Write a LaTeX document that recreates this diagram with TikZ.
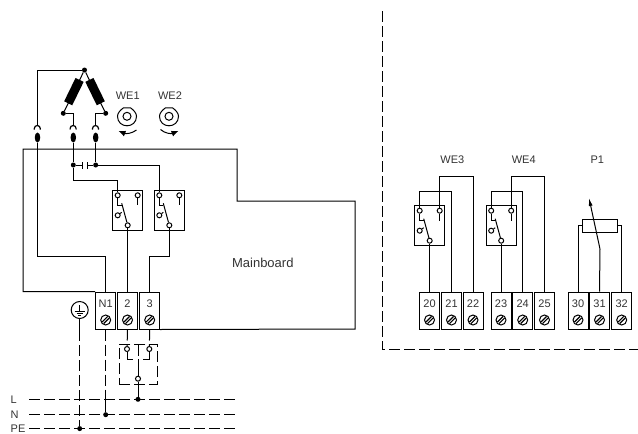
\documentclass[tikz,border=0pt]{standalone}
\usepackage{fontspec}
\setmainfont{Liberation Sans}
\usetikzlibrary{arrows.meta,shapes.geometric}

\tikzset{
  wire/.style={line width=1pt},
  dashwire/.style={line width=1pt, dash pattern=on 11pt off 4pt},
  thinbox/.style={draw, line width=1pt, minimum width=20pt, minimum height=37pt, inner sep=0pt},
  contact/.style={circle, draw, fill=white, line width=1pt, minimum size=5pt, inner sep=0pt},
  dot/.style={circle, fill=black, minimum size=5pt, inner sep=0pt},
  txt/.style={font=\fontsize{11}{12}\selectfont, text=black!80, inner sep=0pt},
  coil/.style={fill=black, rectangle, minimum width=26pt, minimum height=9pt, inner sep=0pt},
  plug/.style={fill=black, ellipse, minimum width=5.5pt, minimum height=10pt, inner sep=0pt},
  relaybox/.style={draw, line width=1pt, minimum width=30pt, minimum height=40pt, inner sep=0pt},
  relay/.pic={
    \node (-box) [relaybox] at (0,0) {};
    \node (-a) [contact] at (-10,-15) {};
    \node (-b) [contact] at (10,-15) {};
    \node (-c) [contact] at (-10,5) {};
    \node (-d) [contact] at (0,15) {};
    \draw[wire] (-a) -- (-10,-5) -- (-6,-5);
    \draw[wire] (-b) -- (10,-5);
    \draw[wire] (-d) -- (-6,-7);
    \draw[wire] (-c) -- (-6,2);
  },
  camdisc/.pic={
    \draw[line width=1pt] (-3.5,-8.5) -- (3.5,-8.5)
      .. controls (7,-6) and (9.5,-3) .. (9.5,0)
      .. controls (9.5,6) and (5,9.5) .. (0,9.5)
      .. controls (-5,9.5) and (-9.5,6) .. (-9.5,0)
      .. controls (-9.5,-3) and (-7,-6) .. (-3.5,-8.5);
    \draw[line width=1pt] (0,0) circle (4pt);
  },
  screw/.pic={
    \draw[line width=1pt] (0,0) circle (5pt);
    \draw[line width=1.2pt] (-3.6,2) -- (2,-3.6);
    \draw[line width=1.2pt] (-2,3.6) -- (3.6,-2);
  },
}

\begin{document}
\begin{tikzpicture}[x=1pt, y=-1pt]
\useasboundingbox (0,0) rectangle (638,434);

% terminals
\foreach \n/\x in {N1/105.7, 2/127.5, 3/149.7, 20/429.5, 21/451.5, 22/473, 23/501, 24/522.7, 25/544.5, 30/578, 31/599.5, 32/621.7} {
  \node (t\n) [thinbox] at (\x, 310.5) {};
  \node (l\n) [txt] at (\x, 303.5) {\n};
  \pic at (\x, 320) {screw};
}

% relays
\pic (ra) at (127.7, 210.3) {relay};
\pic (rb) at (169.3, 210.3) {relay};
\pic (rc) at (429.7, 225.7) {relay};
\pic (rd) at (501.2, 225.7) {relay};

% motor
\node (star) [dot] at (84.5, 70) {};
\node (ml) [dot] at (63.3, 113.3) {};
\node (mr) [dot] at (105.7, 113.3) {};
\node (coila) [coil, rotate=64] at (73.9, 91.6) {};
\node (coilb) [coil, rotate=-64] at (95.1, 91.6) {};
\draw[wire] (star) -- (ml);
\draw[wire] (star) -- (mr);

% plugs
\foreach \n/\x in {a/37.5, b/73.3, c/95.7} {
  \node (up\n) [circle, minimum size=6pt, inner sep=0pt] at (\x, 128.5) {};
  \draw[line width=1.2pt] (up\n.west) ++(0,1.2) -- (up\n.west) arc (180:0:3pt) -- ++(0,1.2);
  \node (pl\n) [plug] at (\x, 137.5) {};
}
\coordinate (cornera) at (37.5, 70);
\draw[wire] (star) -- (cornera) -- (upa.north);
\draw[wire] (ml) -| (upb.north);
\draw[wire] (mr) -| (upc.north);

% mainboard
\coordinate (ba) at (23, 149);
\coordinate (bb) at (237, 201);
\coordinate (bc) at (355, 329);
\draw[wire] (tN1.north west) -| (ba) -| (bb) -| (bc) -- (t3.south east);
\node (board) [txt, font=\fontsize{13}{14}\selectfont] at (262.8, 263) {Mainboard};
\draw[wire] (pla) |- (105.7, 256) -- (tN1.north);

% capacitor
\node (ca) [dot] at (73.3, 165) {};
\node (cb) [dot] at (95.7, 165) {};
\coordinate (pa) at (82.5, 165);
\coordinate (pb) at (87, 165);
\draw[wire] (plb) -- (ca);
\draw[wire] (plc) -- (cb);
\draw[wire] (ca) -- (pa) (pb) -- (cb);
\draw[wire] ([yshift=-3.5pt]pa) -- ([yshift=3.5pt]pa);
\draw[wire] ([yshift=-3.5pt]pb) -- ([yshift=3.5pt]pb);
\draw[wire] (ca) |- (117.7, 180.7) -- (ra-a);
\draw[wire] (cb) -- (159.3, 165) -- (rb-a);

% relay outputs
\draw[wire] (ra-d) -- (ra-d |- t2.north);
\draw[wire] (rb-d) |- (149.7, 256) -- (t3.north);

% cams
\node (we1) [txt] at (127.7, 95.7) {WE1};
\node (we2) [txt] at (170, 95.7) {WE2};
\pic at (127, 116.3) {camdisc};
\pic at (169, 116.3) {camdisc};
\draw[wire, -{Latex[length=7pt, width=6pt]}] (136.5, 130) .. controls (132, 133.5) and (126, 134) .. (118.5, 131);
\draw[wire, -{Latex[length=7pt, width=6pt]}] (160.5, 129.5) .. controls (165, 133.5) and (171, 134) .. (178.5, 131);

% WE3, WE4
\node (we3) [txt] at (452.3, 160) {WE3};
\node (we4) [txt] at (523.7, 160) {WE4};
\draw[wire] (rc-d) -- (rc-d |- t20.north);
\draw[wire] (t21.north) |- (rc-a |- 0,191) -- (rc-a);
\draw[wire] (t22.north) |- (rc-b |- 0,176.7) -- (rc-b);
\draw[wire] (rd-d) -- (rd-d |- t23.north);
\draw[wire] (t24.north) |- (rd-a |- 0,191) -- (rd-a);
\draw[wire] (t25.north) |- (rd-b |- 0,176.7) -- (rd-b);

% P1
\node (p1) [txt] at (597.3, 160) {P1};
\node (pot) [draw, line width=1pt, minimum width=35pt, minimum height=12.5pt, inner sep=0pt] at (599.8, 225.8) {};
\coordinate (wiper) at (600, 249);
\coordinate (tip) at (589, 198);
\draw[wire] (t30.north) |- (pot.west);
\draw[wire] (t32.north) |- (pot.east);
\draw[wire] (t31.north) -- (wiper);
\draw[wire, -{Latex[length=8pt, width=4pt]}] (wiper) -- (tip);

% separator
\coordinate (sa) at (382, 11);
\coordinate (sb) at (382, 349);
\coordinate (sc) at (638, 349);
\draw[dashwire] (sa) -- (sb) -- (sc);

% earth
\node (pe) [circle, draw, line width=1pt, minimum size=17pt, inner sep=0pt] at (79.7, 310) {};
\draw[wire] (74.7, 311) -- (84.7, 311) (76.5, 313.2) -- (82.9, 313.2) (78.2, 315.4) -- (81.2, 315.4);
\coordinate (peb) at (79.7, 330);
\draw[wire] (79.7, 305) -- (79.7, 311);
\draw[wire] (pe) -- (peb);

% mains
\node (ll) [txt, anchor=west] at (10.5, 399.3) {L};
\node (ln) [txt, anchor=west] at (10.5, 414.7) {N};
\node (lpe) [txt, anchor=west] at (10.5, 429) {PE};
\coordinate (la) at (29, 399.3);
\coordinate (lb) at (238, 399.3);
\coordinate (na2) at (29, 414.7);
\coordinate (nb) at (238, 414.7);
\coordinate (pa2) at (29, 428.6);
\coordinate (pb2) at (238, 428.6);
\draw[dashwire] (la) -- (lb);
\draw[dashwire] (na2) -- (nb);
\draw[dashwire] (pa2) -- (pb2);
\node (dl) [dot] at (138, 399.3) {};
\node (dn) [dot] at (105.7, 414.7) {};
\node (dp) [dot] at (79.7, 428.6) {};
\draw[dashwire] (peb) -- (dp);
\draw[dashwire] (tN1.south) -- (105.7, 399.3);
\draw[wire] (105.7, 399.3) -- (112, 399.3);
\draw[wire] (105.7, 399.3) -- (dn);

% door switch
\node (sw) [draw, dashwire, minimum width=38pt, minimum height=40pt, inner sep=0pt] at (138.3, 364) {};
\node (sl) [contact] at (127, 349) {};
\node (sr) [contact] at (149.3, 349) {};
\node (sm) [contact] at (138, 378.7) {};
\draw[dashwire] (t2.south) -- (sl);
\draw[dashwire] (t3.south) -- (sr);
\draw[wire] (sl) |- (133.3, 359);
\draw[wire] (sr) |- (143.3, 359);
\draw[wire] (138, 359) -- (sm);
\draw[dashwire] (138, 345) -- (138, 359);
\draw[wire] (sm) -- (dl);
\end{tikzpicture}
\end{document}
